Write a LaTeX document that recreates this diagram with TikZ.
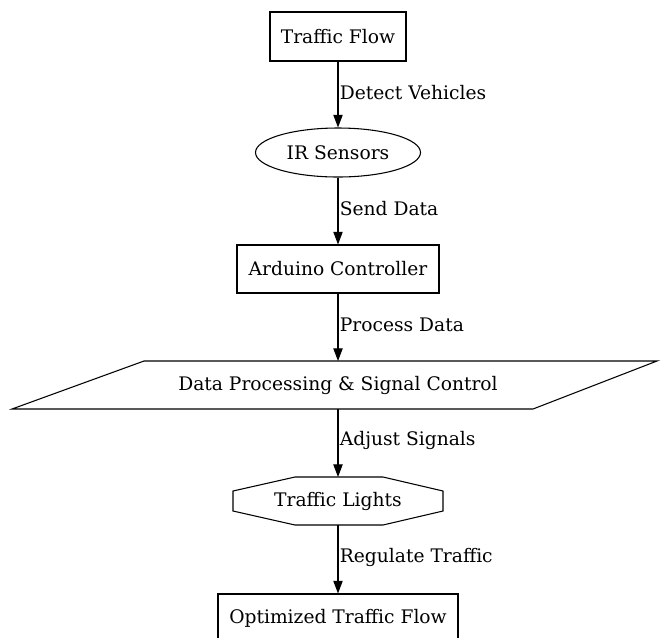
\documentclass[tikz,border=0pt]{standalone}
\usepackage{fontspec}
\setmainfont{DejaVu Serif}
\usetikzlibrary{arrows.meta,shapes.geometric,calc}
\begin{document}
\begin{tikzpicture}[x=0.75pt,y=-0.75pt,
  every node/.style={font=\fontsize{14}{16}\selectfont, inner sep=0pt},
  boxnode/.style={draw, line width=0.8pt, rectangle, minimum height=36.5pt},
  ellnode/.style={draw, line width=0.8pt, ellipse, minimum width=123.75pt, minimum height=36.75pt},
  plainnode/.style={minimum height=36pt},
  conn/.style={line width=0.8pt, -{Triangle[length=9.5pt,width=7pt]}},
  lbl/.style={anchor=west, inner sep=1pt, fill=none},
  shapeline/.style={line width=0.8pt}]
\useasboundingbox (0,0) rectangle (660,637);
\clip (0,0) rectangle (660,637);
\node[boxnode, minimum width=102pt, minimum height=36.75pt] (tf) at (338,36.5) {Traffic Flow};
\node[ellnode] (ir) at (338,152.5) {IR Sensors};
\node[boxnode, minimum width=151.5pt, minimum height=36pt] (ard) at (338,269) {Arduino Controller};
\node[plainnode] (dp) at (338,385) {Data Processing \& Signal Control};
\draw[shapeline] ($(dp.center)+(-194,-24)$) -- ($(dp.center)+(319,-24)$) -- ($(dp.center)+(195,24)$) -- ($(dp.center)+(-326,24)$) -- cycle;
\node[plainnode] (tl) at (338,501) {Traffic Lights};
\draw[shapeline] ($(tl.center)+(-43,-24)$) -- ($(tl.center)+(45,-24)$) -- ($(tl.center)+(105,-10)$) -- ($(tl.center)+(105,10)$) -- ($(tl.center)+(45,24)$) -- ($(tl.center)+(-43,24)$) -- ($(tl.center)+(-105,10)$) -- ($(tl.center)+(-105,-10)$) -- cycle;
\node[boxnode, minimum width=180pt, minimum height=36pt] (otf) at (338,618) {Optimized Traffic Flow};
\coordinate (dpn) at (338,361);
\coordinate (dps) at (338,409);
\coordinate (tln) at (338,477);
\coordinate (tls) at (338,525);
\draw[conn] (tf) -- node[lbl, pos=0.47] {Detect Vehicles} (ir);
\draw[conn] (ir) -- node[lbl, pos=0.47] {Send Data} (ard);
\draw[conn] (ard) -- node[lbl, pos=0.47] {Process Data} (dpn);
\draw[conn] (dps) -- node[lbl, pos=0.47] {Adjust Signals} (tln);
\draw[conn] (tls) -- node[lbl, pos=0.47] {Regulate Traffic} (otf);
\end{tikzpicture}
\end{document}
